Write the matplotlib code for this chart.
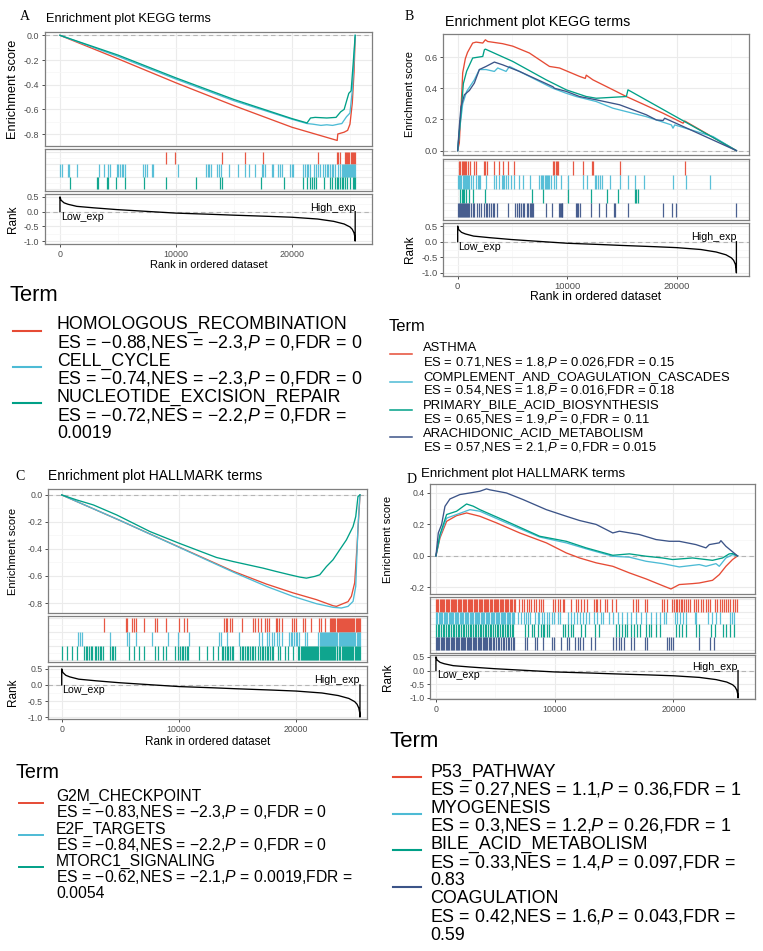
import textwrap
import matplotlib
matplotlib.use("Agg")
import matplotlib.pyplot as plt
from matplotlib.lines import Line2D

plt.rcParams['font.family'] = ['Liberation Sans', 'DejaVu Sans']
plt.rcParams['mathtext.fontset'] = 'custom'
plt.rcParams['mathtext.rm'] = 'Liberation Sans'
plt.rcParams['mathtext.it'] = 'Liberation Sans:italic'
plt.rcParams['mathtext.bf'] = 'Liberation Sans:bold'
plt.rcParams['axes.unicode_minus'] = False

# ============================ DATA ============================
N_GENES = 25450
COLORS = ["#E64B35", "#4DBBD5", "#00A087", "#3C5488"]

# ranked list metric (shared)
rank_x = [0, 0, 90, 350, 700, 1450, 2900, 4900, 7000, 10000, 13000, 15000, 18000, 20000,
          22200, 23600, 24500, 25000, 25200, 25350, 25420, 25450, 25450]
rank_y = [0.0, 0.50, 0.39, 0.30, 0.25, 0.18, 0.13, 0.07, 0.02, -0.05, -0.09, -0.12, -0.16, -0.19,
          -0.25, -0.33, -0.42, -0.52, -0.60, -0.72, -0.85, -1.0, 0.0]

# ---------- Panel A : KEGG (negative) ----------
A_terms = ["HOMOLOGOUS_RECOMBINATION", "CELL_CYCLE", "NUCLEOTIDE_EXCISION_REPAIR"]
A_es = [-0.88, -0.74, -0.72]
A_nes = [-2.3, -2.3, -2.2]
A_p = [0, 0, 0]
A_fdr = [0, 0, 0.0019]
A_red_x = [0, 5000, 10000, 15000, 20000, 23900, 23950, 24500, 24800, 25000, 25200, 25350, 25450]
A_red_y = [0, -0.19, -0.385, -0.57, -0.745, -0.852, -0.80, -0.785, -0.77, -0.72, -0.55, -0.30, -0.02]
A_cyan_x = [0, 5000, 10000, 15000, 20000, 21300, 21800, 22500, 23000, 23500, 24000, 24300, 24700,
            25000, 25200, 25350, 25450]
A_cyan_y = [0, -0.17, -0.355, -0.53, -0.68, -0.715, -0.72, -0.73, -0.725, -0.73, -0.72, -0.715,
            -0.66, -0.63, -0.45, -0.2, 0]
A_teal_x = [0, 5000, 10000, 15000, 20000, 21300, 21600, 22000, 23000, 23800, 24200, 24500, 24900,
            25100, 25300, 25450]
A_teal_y = [0, -0.16, -0.345, -0.52, -0.675, -0.71, -0.67, -0.665, -0.67, -0.665, -0.62, -0.60,
            -0.47, -0.45, -0.2, 0]
A_red_hits = [9110, 9915, 14000, 15950, 17530, 22270, 23850, 23950, 24100, 24550, 24650, 24750,
              24850, 24950, 25050, 25150, 25250, 25350, 25440]
A_cyan_hits = [0, 140, 660, 800, 1440, 3360, 3820, 4170, 4310, 4890, 5030, 5170, 5320, 5460, 5600,
               7190, 7330, 7470, 7900, 8050, 10200, 12560, 12730, 12880, 12990, 13570, 13710, 13850,
               14600, 15380, 15950, 16300, 16810, 17390, 17530, 17680, 18250, 18390, 18830, 18970,
               19170, 19830, 19970, 20120, 20980, 21120, 21270, 21410, 21560, 21930, 22040, 22270,
               22420, 22700, 22850, 22990, 23140, 23280, 23420, 23570, 23710, 23940, 24140, 24290,
               24380, 24470, 24560, 24650, 24740, 24830, 24920, 25010, 25100, 25190, 25280, 25370, 25440]
A_teal_hits = [860, 3160, 3310, 4020, 4170, 4800, 5600, 7270, 9110, 11700, 13800, 13940, 17300,
               19340, 20980, 21270, 21560, 21700, 21930, 22040, 22790, 23280, 23420, 23710, 23850,
               24000, 24140, 24290, 24430, 24570, 24720, 25000, 25290, 25360, 25440]

# ---------- Panel B : KEGG (positive) ----------
B_terms = ["ASTHMA", "COMPLEMENT_AND_COAGULATION_CASCADES", "PRIMARY_BILE_ACID_BIOSYNTHESIS",
           "ARACHIDONIC_ACID_METABOLISM"]
B_es = [0.71, 0.54, 0.65, 0.57]
B_nes = [1.8, 1.8, 1.9, 2.1]
B_p = [0.026, 0.016, 0, 0]
B_fdr = [0.15, 0.18, 0.11, 0.015]
B_red_x = [0, 150, 300, 460, 700, 900, 1370, 1680, 2290, 2530, 2740, 4100, 5030, 6550, 8380, 9300,
           11130, 11650, 11740, 12350, 14180, 15400, 18750, 20580, 20730, 25450]
B_red_y = [0, 0.05, 0.26, 0.50, 0.59, 0.63, 0.69, 0.696, 0.69, 0.711, 0.70, 0.686, 0.67, 0.626,
           0.54, 0.53, 0.476, 0.463, 0.484, 0.454, 0.39, 0.347, 0.24, 0.176, 0.19, 0]
B_cyan_x = [0, 150, 460, 820, 1520, 1980, 2590, 3350, 3660, 4420, 4730, 5640, 8690, 9910, 10820,
            12650, 14180, 17220, 19510, 19660, 19820, 23320, 25450]
B_cyan_y = [0, 0.12, 0.30, 0.38, 0.454, 0.52, 0.52, 0.508, 0.53, 0.508, 0.54, 0.508, 0.40, 0.368,
            0.347, 0.315, 0.272, 0.218, 0.165, 0.144, 0.165, 0.09, 0]
B_teal_x = [0, 300, 520, 820, 1370, 2290, 2440, 2530, 5030, 8080, 9910, 11740, 12650, 15400, 15550,
            25450]
B_teal_y = [0, 0.24, 0.43, 0.51, 0.594, 0.604, 0.647, 0.651, 0.572, 0.454, 0.39, 0.347, 0.336,
            0.347, 0.39, 0]
B_blue_x = [0, 150, 300, 610, 1070, 1520, 1980, 2590, 3350, 4120, 5640, 8690, 8840, 9910, 11130,
            12650, 14790, 17220, 18140, 18750, 18900, 20270, 25450]
B_blue_y = [0, 0.155, 0.28, 0.358, 0.386, 0.433, 0.52, 0.54, 0.568, 0.55, 0.508, 0.41, 0.40, 0.38,
            0.347, 0.326, 0.294, 0.23, 0.197, 0.193, 0.208, 0.165, 0]
B_red_hits = [150, 240, 370, 460, 550, 640, 760, 920, 1130, 1520, 1680, 2440, 2530, 2650, 3350,
              3750, 4180, 4570, 5180, 8690, 8840, 8990, 9090, 9180, 10520, 11430, 12260, 12350,
              14850, 20730]
B_cyan_hits = [60, 150, 240, 340, 460, 550, 640, 760, 850, 950, 1070, 1220, 1370, 1680, 1890, 1980,
               2070, 2590, 3350, 3510, 3810, 4020, 4120, 4270, 4420, 4570, 4880, 5180, 5580, 5950,
               6560, 7470, 7620, 7710, 7800, 7930, 8020, 8140, 8230, 8380, 8540, 8750, 8990, 9450,
               10060, 11430, 11800, 12500, 12650, 12800, 12960, 13200, 13870, 14790, 15550, 16160,
               17010, 19670, 20890, 23080]
B_teal_hits = [240, 400, 520, 610, 760, 1070, 1430, 2530, 6770, 7780, 10060, 12200, 13630, 14630,
               16220, 16310, 16460]
B_blue_hits = [0, 90, 180, 270, 370, 460, 550, 640, 760, 850, 950, 1070, 1220, 1370, 1520, 1740,
               1980, 2130, 2440, 2590, 2680, 2840, 3050, 3200, 3350, 3570, 4570, 5270, 5400, 5580,
               5640, 5790, 5950, 6100, 6310, 6460, 6620, 6710, 6800, 6920, 8080, 8630, 9240, 9300,
               9390, 9480, 9570, 10820, 10920, 11010, 11130, 12130, 12900, 13570, 14270, 14360,
               15550, 18750, 19600, 19910, 25400]

# ---------- Panel C : HALLMARK (negative) ----------
C_terms = ["G2M_CHECKPOINT", "E2F_TARGETS", "MTORC1_SIGNALING"]
C_es = [-0.83, -0.84, -0.62]
C_nes = [-2.3, -2.2, -2.1]
C_p = [0, 0, 0.0019]
C_fdr = [0, 0, 0.0054]
C_red_x = [0, 5000, 10000, 14630, 17470, 19740, 21730, 23150, 23440, 24000, 24430, 24720, 25000,
           25200, 25450]
C_red_y = [0, -0.19, -0.385, -0.565, -0.66, -0.725, -0.775, -0.82, -0.825, -0.805, -0.79, -0.75,
           -0.65, -0.38, 0]
C_cyan_x = [0, 5000, 10000, 14630, 17470, 19740, 21730, 23150, 23860, 24430, 24860, 25090, 25280,
            25450]
C_cyan_y = [0, -0.19, -0.387, -0.571, -0.677, -0.751, -0.805, -0.832, -0.837, -0.825, -0.788,
            -0.677, -0.234, 0]
C_teal_x = [0, 1280, 2700, 4690, 7530, 10000, 13210, 14630, 17190, 18320, 19460, 20310, 20880,
            21590, 22020, 22590, 23150, 23720, 24290, 24860, 25090, 25280, 25450]
C_teal_y = [0, -0.037, -0.074, -0.148, -0.271, -0.357, -0.463, -0.493, -0.542, -0.567, -0.591,
            -0.608, -0.616, -0.603, -0.591, -0.53, -0.48, -0.406, -0.333, -0.234, -0.16, -0.012, 0]
C_red_hits = [3590, 5470, 5610, 6040, 6180, 6330, 7040, 7950, 8150, 8890, 10000, 10430, 10710,
              13850, 13990, 14130, 14360, 14500, 15360, 16350, 16500, 16780, 17010, 17350, 17490,
              17720, 18260, 18400, 18550, 18830, 19690, 19830, 19970, 20570, 20770, 21250, 21970,
              22140, 22480, 22910, 23000, 23080, 23190, 23270, 23360, 23450, 23550, 23630, 23720,
              23810, 23900, 24000, 24080, 24170, 24260, 24360, 24440, 24530, 24620, 24710, 24810,
              24890, 24980, 25070, 25160, 25260, 25340, 25430]
C_cyan_hits = [1400, 1540, 1740, 4100, 5580, 5730, 6330, 7720, 9090, 9940, 10860, 13420, 13560,
               14130, 15130, 16840, 17070, 17550, 17690, 17980, 18120, 18410, 18550, 18830, 19400,
               19540, 19690, 19830, 19970, 20110, 20260, 20770, 20910, 21910, 22000, 22090, 22180,
               22280, 22360, 22450, 22540, 22640, 22720, 22810, 22900, 23000, 23080, 23170, 23260,
               23360, 23440, 23530, 23620, 23720, 23800, 23890, 23980, 24080, 24160, 24250, 24340,
               24440, 24520, 24610, 24700, 24800, 24880, 24970, 25060, 25160, 25240, 25330, 25420]
C_teal_hits = [30, 480, 910, 1310, 1910, 2050, 2190, 2340, 2480, 2620, 2820, 2960, 3110, 3250, 3390,
               3530, 4100, 4250, 4390, 4530, 5730, 6150, 6610, 7040, 7950, 8230, 8660, 8890, 9660,
               9940, 10090, 10230, 10370, 10510, 10660, 10800, 11710, 12420, 12930, 13360, 13650,
               13790, 13930, 14070, 14220, 14360, 14500, 14640, 15210, 15360, 15500, 15640, 15780,
               15930, 16070, 16210, 16350, 16500, 16780, 16920, 17070, 17210, 17350, 17490, 17640,
               17780, 17920, 18060, 18490, 18630, 19060, 19350, 19770, 20200, 20290, 20380, 20470,
               20570, 20650, 20740, 20830, 20930, 21010, 21100, 21190, 21290, 21370, 21460, 21550,
               21650, 21730, 21820, 21910, 22010, 22090, 22180, 22270, 22370, 22450, 22540, 22630,
               22730, 22810, 22900, 22990, 23090, 23170, 23260, 23350, 23450, 23530, 23620, 23710,
               23900, 23990, 24080, 24170, 24270, 24350, 24440, 24530, 24630, 24710, 24800, 24890,
               24990, 25070, 25160, 25250, 25350, 25430]

# ---------- Panel D : HALLMARK (positive) ----------
D_terms = ["P53_PATHWAY", "MYOGENESIS", "BILE_ACID_METABOLISM", "COAGULATION"]
D_es = [0.27, 0.3, 0.33, 0.42]
D_nes = [1.1, 1.2, 1.4, 1.6]
D_p = [0.36, 0.26, 0.097, 0.043]
D_fdr = [1, 1, 0.83, 0.59]
D_red_x = [0, 340, 900, 1740, 2580, 3700, 5100, 7060, 9300, 10980, 12100, 13500, 14900, 16300,
           17700, 19100, 19800, 20500, 21620, 22180, 23300, 23870, 24430, 24990, 25410]
D_red_y = [0, 0.114, 0.22, 0.256, 0.273, 0.252, 0.21, 0.146, 0.083, 0.019, -0.013, -0.044, -0.066,
           -0.108, -0.146, -0.189, -0.21, -0.182, -0.176, -0.172, -0.155, -0.119, -0.066, -0.023, 0]
D_cyan_x = [0, 340, 900, 1740, 2860, 3700, 5940, 8740, 10980, 12660, 14900, 16300, 17700, 19100,
            20500, 22180, 22750, 23590, 23870, 24430, 24990, 25410]
D_cyan_y = [0, 0.125, 0.24, 0.263, 0.294, 0.284, 0.21, 0.12, 0.083, 0.045, -0.002, -0.008, -0.034,
            -0.049, -0.07, -0.055, -0.066, -0.049, -0.066, -0.013, 0.008, 0]
D_teal_x = [0, 340, 900, 1740, 2580, 3140, 3700, 5940, 8740, 10980, 12660, 14900, 16300, 17700,
            19100, 19940, 21620, 23300, 24150, 24710, 24990, 25410]
D_teal_y = [0, 0.136, 0.263, 0.284, 0.33, 0.316, 0.294, 0.22, 0.125, 0.093, 0.051, 0.004, 0.013,
            -0.002, -0.013, -0.023, -0.013, -0.028, -0.013, 0.013, 0.015, 0]
D_blue_x = [0, 200, 480, 760, 1180, 2020, 2860, 3700, 4260, 4540, 5940, 7340, 9300, 10980, 12100,
            13500, 14900, 15460, 17140, 18540, 19660, 20500, 21900, 22750, 23030, 23870, 24010,
            24430, 25410]
D_blue_y = [0, 0.146, 0.20, 0.315, 0.362, 0.39, 0.40, 0.411, 0.426, 0.42, 0.40, 0.358, 0.294,
            0.252, 0.225, 0.20, 0.146, 0.157, 0.136, 0.104, 0.093, 0.093, 0.072, 0.051, 0.072,
            0.083, 0.097, 0.061, 0]
D_red_hits = [0, 90, 200, 310, 400, 520, 610, 700, 820, 930, 1010, 1120, 1230, 1330, 1420, 1540,
              1640, 1730, 1850, 1950, 2040, 2150, 2260, 2350, 2470, 2560, 2660, 2780, 2870, 2960,
              3080, 3190, 3280, 3390, 3500, 3600, 3710, 3800, 3920, 4020, 4110, 4230, 4330, 4420,
              4540, 4650, 4740, 4850, 4960, 5060, 5170, 5260, 5380, 5480, 5570, 5690, 5790, 5900,
              6000, 6110, 6220, 6330, 6420, 6540, 6650, 7030, 7220, 7450, 7650, 7810, 8010, 8230,
              8430, 8650, 8850, 8990, 9830, 10020, 10250, 10470, 10670, 10810, 11420, 11790, 11980,
              12210, 12490, 12710, 13330, 13470, 13610, 13830, 14250, 14450, 14870, 15150, 16630,
              16830, 17020, 17580, 17810, 19010, 19210, 19430, 19910, 20050, 20190, 20330, 20470,
              20610, 20750, 20890, 21030, 21220, 21390, 21730, 21870, 22060, 22290, 22510, 22710,
              22900, 23130, 23550, 23690, 23910, 24110, 24250, 24440, 24610, 24810, 25000, 25200,
              25370]
D_cyan_hits = [20, 130, 240, 330, 450, 540, 660, 750, 850, 960, 1060, 1170, 1270, 1380, 1470, 1590,
               1690, 1800, 1900, 2010, 2100, 2220, 2310, 2420, 2530, 2620, 2740, 2830, 2940, 3040,
               3150, 3250, 3360, 3460, 3550, 3670, 3760, 3880, 3980, 4070, 4190, 4290, 4380, 4500,
               4600, 4710, 4800, 4920, 5020, 5110, 5230, 5330, 5440, 5530, 5650, 5750, 5850, 5960,
               6060, 6170, 6270, 6380, 6480, 6590, 6940, 7170, 7390, 7590, 7730, 7950, 8340, 8570,
               8710, 8900, 9130, 9350, 9550, 9740, 9970, 10250, 10470, 11090, 11370, 11650, 11870,
               12150, 12350, 12630, 12910, 13330, 13610, 13890, 14110, 14590, 14950, 15340, 15710,
               16130, 16460, 16830, 17250, 17670, 18090, 18510, 18870, 19210, 19400, 20100, 20330,
               20550, 20800, 21030, 21810, 21950, 22900, 23270, 23630, 23970, 24750, 24950, 25140]
D_teal_hits = [10, 160, 300, 420, 580, 700, 860, 990, 1140, 1260, 1420, 1560, 1690, 1850, 1980,
               2120, 2270, 2400, 2550, 2690, 2830, 2980, 3110, 3260, 3400, 3540, 3690, 3820, 3970,
               4110, 4250, 4400, 4530, 4680, 4820, 4960, 5110, 5240, 5390, 5530, 5670, 5820, 5950,
               6100, 6240, 6380, 6530, 7500, 7730, 8060, 8290, 8570, 8850, 8990, 9130, 9350, 9550,
               10670, 10860, 11090, 11370, 11560, 12260, 12540, 13410, 13750, 15150, 15430, 15710,
               15900, 16130, 16410, 16690, 16970, 17190, 17670, 17950, 18140, 18510, 18840, 20190,
               20470, 20750, 21030, 21870, 22150, 23180, 23550, 24190, 24470, 24810, 25140]
D_blue_hits = [0, 100, 210, 300, 420, 510, 620, 720, 830, 920, 1040, 1130, 1240, 1340, 1450, 1540,
               1660, 1750, 1860, 1960, 2070, 2160, 2280, 2370, 2480, 2580, 2690, 2780, 2900, 2990,
               3100, 3200, 3310, 3400, 3520, 3610, 3720, 3820, 3930, 4020, 4140, 4230, 4340, 4440,
               4550, 4650, 4790, 4930, 5070, 5210, 5350, 5490, 5630, 5770, 5910, 6050, 6190, 6330,
               6470, 6610, 7500, 7670, 8340, 8510, 9040, 9740, 9970, 10530, 11000, 11170, 11700,
               11930, 12150, 12380, 13100, 13380, 14950, 15180, 15400, 15620, 15850, 16460, 16690,
               17610, 17810, 19430, 19630, 19820, 19990, 22200, 23070, 23410]

TITLES = {"A": "Enrichment plot KEGG terms", "B": "Enrichment plot KEGG terms",
          "C": "Enrichment plot HALLMARK terms", "D": "Enrichment plot HALLMARK terms"}

# ============================ FIGURE ============================
W, H = 763, 951
fig = plt.figure(figsize=(W / 100, H / 100), dpi=100)

SANS = ['Liberation Sans', 'DejaVu Sans']
SERIF = ['Liberation Serif', 'DejaVu Serif']


def fx(x):
    return x / W


def fy(y):
    return 1 - y / H


def cap_px(size, serif=False):
    return (0.655 if serif else 0.716) * size * 100 / 72


def add_ax(box):
    x0, y0, x1, y1 = box
    return fig.add_axes([fx(x0), fy(y1), (x1 - x0) / W, (y1 - y0) / H])


def put_text(x, yc, s, size, ha='left', serif=False, color='black'):
    fig.text(fx(x), fy(yc + cap_px(size, serif) / 2), s, fontsize=size, ha=ha, va='baseline',
             color=color, family=SERIF if serif else SANS)


GRID_MAJ = '#EBEBEB'
GRID_MIN = '#F6F6F6'
BORDER = '#7F7F7F'
TICKC = '#4D4D4D'
XMAJ = [0, 10000, 20000]
XMIN = [5000, 15000, 25000]


def base_style(ax, xlim, ylim, tick_fs):
    ax.set_xlim(xlim)
    ax.set_ylim(ylim)
    ax.set_xticks(XMAJ)
    ax.set_xticks(XMIN, minor=True)
    for s in ax.spines.values():
        s.set_color(BORDER)
        s.set_linewidth(0.9)
    ax.grid(True, which='major', color=GRID_MAJ, lw=0.8)
    ax.grid(True, which='minor', color=GRID_MIN, lw=0.5)
    ax.set_axisbelow(True)
    ax.tick_params(which='minor', length=0)
    ax.tick_params(which='major', length=2.5, width=0.6, color='#333333', labelsize=tick_fs,
                   labelcolor=TICKC, pad=1.5)


def fmt(v):
    return f"{v:g}".replace('-', '\u2212')


def draw_panel(L, curves, hits, terms, es, nes, pv, fdr):
    n = len(curves)
    fs = L['fs']
    # --- running enrichment score
    ax = add_ax(L['es'])
    base_style(ax, L['xlim'], L['es_ylim'], fs['tick'])
    ax.set_yticks(L['yt'])
    ax.set_yticks([(a + b) / 2 for a, b in zip(L['yt'][:-1], L['yt'][1:])], minor=True)
    ax.set_yticklabels([f"{t:.1f}" for t in L['yt']])
    ax.tick_params(axis='x', which='both', length=0, labelbottom=False)
    ax.axhline(0, color='#B5B5B5', lw=0.8, ls=(0, (4, 3)), zorder=1)
    for i, (cx, cy) in enumerate(curves):
        ax.plot(cx, cy, color=COLORS[i], lw=0.95, zorder=3 + i)
    # --- hits
    axh = add_ax(L['hits'])
    base_style(axh, L['xlim'], L['hits_ylim'], fs['tick'])
    axh.set_yticks(list(range(n + 1)))
    axh.set_yticks([k + 0.5 for k in range(n)], minor=True)
    axh.tick_params(which='both', length=0, labelbottom=False, labelleft=False)
    for i, h in enumerate(hits):
        lo = n - 1 - i
        axh.vlines(h, lo, lo + 1, color=COLORS[i], lw=0.9, alpha=0.92, zorder=3)
    # --- ranked metric
    axr = add_ax(L['rank'])
    base_style(axr, L['xlim'], L['rank_ylim'], fs['tick'])
    axr.set_yticks([0.5, 0.0, -0.5, -1.0])
    axr.set_yticks([0.25, -0.25, -0.75], minor=True)
    axr.set_yticklabels(["0.5", "0.0", "-0.5", "-1.0"])
    axr.set_xticklabels([str(t) for t in XMAJ])
    axr.axhline(0, color='#B5B5B5', lw=0.8, ls=(0, (4, 3)), zorder=1)
    axr.plot(rank_x, rank_y, color='black', lw=0.95, zorder=3)
    axr.text(60, -0.17, "Low_exp", fontsize=7.7, ha='left', va='center')
    axr.text(N_GENES, 0.14, "High_exp", fontsize=7.7, ha='right', va='center')
    # --- texts
    put_text(L['letter'][0], L['letter'][1], L['key'], 10, serif=True)
    put_text(L['title'][0], L['title'][1], TITLES[L['key']], fs['title'])
    e0, e1 = L['es'][1], L['es'][3]
    r0, r1 = L['rank'][1], L['rank'][3]
    fig.text(fx(L['ylab_x']), fy((e0 + e1) / 2), "Enrichment score", rotation=90,
             fontsize=fs['ylab'], ha='center', va='center')
    fig.text(fx(L['ylab_x']), fy((r0 + r1) / 2), "Rank", rotation=90, fontsize=8.5,
             ha='center', va='center')
    if L['xlab_y'] is not None:
        put_text((L['es'][0] + L['es'][2]) / 2, L['xlab_y'], "Rank in ordered dataset",
                 fs['xlab'], ha='center')
    # --- legend
    lg = L['legend']
    put_text(lg['term'][0], lg['term'][1], "Term", lg['term'][2])
    k = 0
    for i, name in enumerate(terms):
        stat = f"ES = {fmt(es[i])},NES = {fmt(nes[i])},P = {fmt(pv[i])},FDR = {fmt(fdr[i])}"
        lines = [name] + textwrap.wrap(stat, lg['wrap'], break_long_words=False)
        for ln in lines:
            ln = ln.replace("P =", r"$\mathit{P}$ =")
            put_text(lg['x'], lg['y0'] + k * lg['step'], ln, lg['size'])
            k += 1
        ky = lg['key_y0'] + i * lg['key_step']
        fig.add_artist(Line2D([fx(lg['key_x'][0]), fx(lg['key_x'][1])], [fy(ky), fy(ky)],
                              color=COLORS[i], lw=lg['key_lw'], transform=fig.transFigure))


LAYOUT = {
    "A": dict(key="A", es=(45, 32, 372, 146), hits=(45, 149, 372, 191), rank=(45, 194, 372, 244),
              xlim=(-1290, 26900), es_ylim=(-0.897, 0.027), hits_ylim=(-0.16, 3.22),
              rank_ylim=(-1.10, 0.60), yt=[0.0, -0.2, -0.4, -0.6, -0.8][::-1],
              fs=dict(tick=6.4, title=9.2, ylab=9.2, xlab=7.9),
              letter=(20, 15), title=(46, 17.3), ylab_x=13.3, xlab_y=264,
              legend=dict(term=(10, 293.3, 15.8), x=57, y0=322.5, step=18.25, size=12.8, wrap=38,
                          key_x=(13, 41), key_y0=330.7, key_step=36.3, key_lw=1.5)),
    "B": dict(key="B", es=(443, 34, 749, 155), hits=(443, 159, 749, 220), rank=(443, 223, 749, 276),
              xlim=(-1340, 26600), es_ylim=(-0.028, 0.748), hits_ylim=(-0.19, 4.17),
              rank_ylim=(-1.10, 0.60), yt=[0.0, 0.2, 0.4, 0.6],
              fs=dict(tick=6.8, title=10.3, ylab=7.9, xlab=8.85),
              letter=(405, 15), title=(445, 20.7), ylab_x=410, xlab_y=296,
              legend=dict(term=(389, 325, 11.9), x=423.3, y0=346.7, step=14.19, size=9.4, wrap=50,
                          key_x=(390, 412), key_y0=354, key_step=27.8, key_lw=1.1)),
    "C": dict(key="C", es=(48, 489, 367, 613), hits=(48, 616, 367, 662), rank=(48, 666, 367, 719),
              xlim=(-1170, 26050), es_ylim=(-0.874, 0.044), hits_ylim=(-0.12, 3.12),
              rank_ylim=(-1.06, 0.59), yt=[0.0, -0.2, -0.4, -0.6, -0.8][::-1],
              fs=dict(tick=6.3, title=10.0, ylab=8.0, xlab=8.5),
              letter=(15, 475), title=(48, 475), ylab_x=13.3, xlab_y=741,
              legend=dict(term=(16, 770.7, 14.2), x=56, y0=795.7, step=16.1, size=11.3, wrap=42,
                          key_x=(19, 43), key_y0=803.3, key_step=32, key_lw=1.4)),
    "D": dict(key="D", es=(430, 484, 755, 594), hits=(430, 597, 755, 653), rank=(430, 655, 755, 699),
              xlim=(-500, 26880), es_ylim=(-0.242, 0.457), hits_ylim=(-0.27, 4.16),
              rank_ylim=(-1.04, 0.57), yt=[-0.2, 0.0, 0.2, 0.4],
              fs=dict(tick=6.3, title=9.5, ylab=8.0, xlab=8.5),
              letter=(407, 478), title=(421, 472), ylab_x=388, xlab_y=None,
              legend=dict(term=(390, 739.3, 16.0), x=430, y0=770, step=18.14, size=12.9, wrap=38,
                          key_x=(393, 421), key_y0=777.3, key_step=36.5, key_lw=1.5)),
}

draw_panel(LAYOUT["A"], [(A_red_x, A_red_y), (A_cyan_x, A_cyan_y), (A_teal_x, A_teal_y)],
           [A_red_hits, A_cyan_hits, A_teal_hits], A_terms, A_es, A_nes, A_p, A_fdr)
draw_panel(LAYOUT["B"], [(B_red_x, B_red_y), (B_cyan_x, B_cyan_y), (B_teal_x, B_teal_y),
                         (B_blue_x, B_blue_y)],
           [B_red_hits, B_cyan_hits, B_teal_hits, B_blue_hits], B_terms, B_es, B_nes, B_p, B_fdr)
draw_panel(LAYOUT["C"], [(C_red_x, C_red_y), (C_cyan_x, C_cyan_y), (C_teal_x, C_teal_y)],
           [C_red_hits, C_cyan_hits, C_teal_hits], C_terms, C_es, C_nes, C_p, C_fdr)
draw_panel(LAYOUT["D"], [(D_red_x, D_red_y), (D_cyan_x, D_cyan_y), (D_teal_x, D_teal_y),
                         (D_blue_x, D_blue_y)],
           [D_red_hits, D_cyan_hits, D_teal_hits, D_blue_hits], D_terms, D_es, D_nes, D_p, D_fdr)

fig.savefig("out.png", dpi=100)
